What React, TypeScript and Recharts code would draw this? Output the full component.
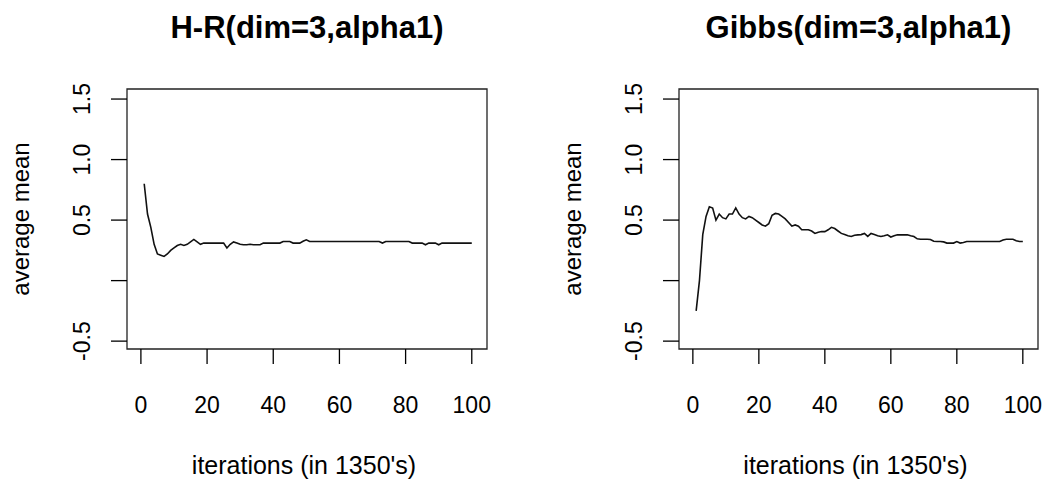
import { LineChart, Line, XAxis, YAxis, ReferenceArea } from "recharts";

// iteration index (in 1350's)
const iterations = Array.from({ length: 100 }, (_, i) => i + 1);

// running average mean, H-R sampler
const hrMeans = [
  0.8, 0.55, 0.44, 0.3, 0.22, 0.21, 0.2, 0.22, 0.25, 0.27,
  0.29, 0.3, 0.29, 0.3, 0.32, 0.34, 0.32, 0.3, 0.31, 0.31,
  0.31, 0.31, 0.31, 0.31, 0.31, 0.27, 0.3, 0.32, 0.31, 0.3,
  0.296, 0.296, 0.3, 0.296, 0.296, 0.296, 0.31, 0.31, 0.31, 0.31,
  0.31, 0.31, 0.323, 0.323, 0.323, 0.31, 0.31, 0.31, 0.325, 0.337,
  0.323, 0.323, 0.323, 0.323, 0.323, 0.323, 0.323, 0.323, 0.323, 0.323,
  0.323, 0.323, 0.323, 0.323, 0.323, 0.323, 0.323, 0.323, 0.323, 0.323,
  0.323, 0.323, 0.31, 0.323, 0.323, 0.323, 0.323, 0.323, 0.323, 0.323,
  0.323, 0.31, 0.31, 0.31, 0.31, 0.296, 0.31, 0.31, 0.31, 0.296,
  0.31, 0.31, 0.31, 0.31, 0.31, 0.31, 0.31, 0.31, 0.31, 0.31,
];

// running average mean, Gibbs sampler
const gibbsMeans = [
  -0.25, 0.0, 0.38, 0.53, 0.61, 0.6, 0.5, 0.55, 0.52, 0.51,
  0.55, 0.55, 0.6, 0.55, 0.52, 0.51, 0.53, 0.52, 0.5, 0.48,
  0.46, 0.45, 0.47, 0.54, 0.555, 0.55, 0.53, 0.51, 0.48, 0.45,
  0.46, 0.45, 0.42, 0.42, 0.42, 0.41, 0.39, 0.4, 0.405, 0.405,
  0.42, 0.44, 0.43, 0.41, 0.39, 0.38, 0.37, 0.365, 0.375, 0.378,
  0.38, 0.39, 0.365, 0.39, 0.38, 0.37, 0.364, 0.37, 0.378, 0.36,
  0.37, 0.378, 0.378, 0.378, 0.378, 0.37, 0.364, 0.345, 0.342, 0.342,
  0.342, 0.34, 0.325, 0.323, 0.323, 0.32, 0.31, 0.31, 0.31, 0.323,
  0.31, 0.315, 0.323, 0.323, 0.323, 0.323, 0.323, 0.323, 0.323, 0.323,
  0.323, 0.323, 0.323, 0.335, 0.342, 0.342, 0.342, 0.33, 0.323, 0.323,
];

const xTicks = [0, 20, 40, 60, 80, 100];
const yTicks = [-0.5, 0, 0.5, 1, 1.5];
const yTickLabels = ["-0.5", "", "0.5", "1.0", "1.5"];

const X_DOMAIN: [number, number] = [-4.2, 104.6];
const Y_DOMAIN: [number, number] = [-0.565, 1.583];

const rows = iterations.map((it, i) => ({ it, hr: hrMeans[i], gibbs: gibbsMeans[i] }));

const FONT = "'Liberation Sans', Arial, sans-serif";
const TOP = 89;
const AXIS_W = 127;
const AXIS_H = 134;

function YTick({ x, y, payload }: any) {
  const label = yTickLabels[yTicks.indexOf(payload.value)];
  if (!label) return <g />;
  return (
    <text x={x} y={y} transform={`rotate(-90 ${x} ${y})`} textAnchor="middle"
      fontSize={23} fill="#000" fontFamily={FONT}>
      {label}
    </text>
  );
}

interface PanelProps {
  title: string;
  dataKey: "hr" | "gibbs";
  left: number;
  plotWidth: number;
  padRight: number;
}

function Panel({ title, dataKey, left, plotWidth, padRight }: PanelProps) {
  const width = AXIS_W + plotWidth + padRight;
  const plotMid = AXIS_W + plotWidth / 2;
  const plotMidY = TOP + (483 - TOP - AXIS_H) / 2;
  return (
    <div style={{ position: "absolute", left, top: 0 }}>
      <LineChart width={width} height={483} data={rows}
        margin={{ top: TOP, right: padRight, bottom: 0, left: 0 }}>
        <XAxis dataKey="it" type="number" domain={X_DOMAIN} ticks={xTicks}
          allowDataOverflow height={AXIS_H} axisLine={false} tickSize={15} tickMargin={33}
          tickLine={{ stroke: "#000", strokeWidth: 1.3 }}
          tick={{ fontSize: 23, fill: "#000", fontFamily: FONT }} />
        <YAxis type="number" domain={Y_DOMAIN} ticks={yTicks} allowDataOverflow
          width={AXIS_W} axisLine={false} tickSize={16} tickMargin={21}
          tickLine={{ stroke: "#000", strokeWidth: 1.3 }} tick={<YTick />} />
        <ReferenceArea x1={X_DOMAIN[0]} x2={X_DOMAIN[1]} y1={Y_DOMAIN[0]} y2={Y_DOMAIN[1]}
          fill="none" stroke="#222" strokeWidth={1.3} ifOverflow="visible" />
        <Line type="linear" dataKey={dataKey} stroke="#111" strokeWidth={1.6}
          dot={false} isAnimationActive={false} />
        <text x={plotMid} y={38} textAnchor="middle" fontSize={31} fontWeight="bold"
          fill="#000" fontFamily={FONT}>{title}</text>
        <text x={plotMid - 3} y={474} textAnchor="middle" fontSize={25}
          fill="#000" fontFamily={FONT}>iterations (in 1350's)</text>
        <text x={AXIS_W - 98} y={plotMidY} transform={`rotate(-90 ${AXIS_W - 98} ${plotMidY})`}
          textAnchor="middle" fontSize={24} fill="#000" fontFamily={FONT}>average mean</text>
      </LineChart>
    </div>
  );
}

export default function App() {
  return (
    <div style={{ position: "absolute", left: 0, top: 0, width: 1045, height: 483,
      background: "#fff", fontFamily: FONT, overflow: "hidden" }}>
      <Panel title="H-R(dim=3,alpha1)" dataKey="hr" left={0} plotWidth={360} padRight={20} />
      <Panel title="Gibbs(dim=3,alpha1)" dataKey="gibbs" left={552} plotWidth={359} padRight={7} />
    </div>
  );
}
